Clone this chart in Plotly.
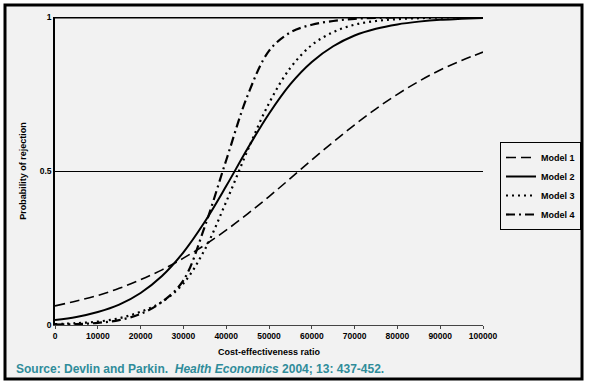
import plotly.graph_objects as go

# Data
cer = [0, 5000, 10000, 15000, 20000, 25000, 30000, 35000, 40000, 45000, 50000,
       55000, 60000, 65000, 70000, 75000, 80000, 85000, 90000, 95000, 100000]
model1 = [0.062, 0.078, 0.096, 0.119, 0.147, 0.179, 0.217, 0.260, 0.308, 0.361, 0.417,
          0.476, 0.536, 0.594, 0.650, 0.702, 0.749, 0.791, 0.828, 0.859, 0.886]
model2 = [0.016, 0.026, 0.042, 0.066, 0.104, 0.159, 0.236, 0.335, 0.451, 0.573, 0.686,
          0.782, 0.854, 0.905, 0.940, 0.962, 0.976, 0.985, 0.991, 0.994, 0.997]
model3 = [0.003, 0.006, 0.011, 0.022, 0.043, 0.075, 0.135, 0.245, 0.400, 0.567, 0.720,
          0.835, 0.909, 0.951, 0.975, 0.987, 0.993, 0.996, 0.998, 0.999, 0.999]
model4 = [0.001, 0.003, 0.007, 0.016, 0.036, 0.075, 0.145, 0.320, 0.535, 0.745, 0.890,
          0.950, 0.975, 0.987, 0.994, 0.997, 0.999, 1.0, 1.0, 1.0, 1.0]
x_ticks = [0, 10000, 20000, 30000, 40000, 50000, 60000, 70000, 80000, 90000, 100000]
y_ticks = [0, 0.5, 1]
y_tick_text = ["0", "0.5", "1"]

W, H = 589, 385
L, R, T, B = 55, 106, 17, 60
pw, ph = W - L - R, H - T - B

def px_x(p):
    return (p - L) / pw

def px_y(p):
    return (H - B - p) / ph

FONT = "Liberation Sans, Arial, sans-serif"

fig = go.Figure()
fig.add_trace(go.Scatter(x=cer, y=model1, name="Model 1", mode="lines", line_shape="spline",
                         line=dict(color="black", width=1.6, dash="10px,5px")))
fig.add_trace(go.Scatter(x=cer, y=model2, name="Model 2", mode="lines", line_shape="spline",
                         line=dict(color="black", width=2)))
fig.add_trace(go.Scatter(x=cer, y=model3, name="Model 3", mode="lines", line_shape="spline",
                         line=dict(color="black", width=2.2, dash="2px,4px")))
fig.add_trace(go.Scatter(x=cer, y=model4, name="Model 4", mode="lines", line_shape="spline",
                         line=dict(color="black", width=2.2, dash="9px,4px,2px,4px")))

shapes = [
    # gray panel with thick black frame
    dict(type="rect", xref="paper", yref="paper", x0=px_x(5), x1=px_x(582),
         y0=px_y(379), y1=px_y(5), fillcolor="#f2f2f2",
         line=dict(color="black", width=3), layer="below"),
    # thick top line at probability 1
    dict(type="line", xref="x", yref="y", x0=0, x1=100000, y0=1, y1=1,
         line=dict(color="black", width=3)),
]

fig.update_layout(
    width=W, height=H,
    margin=dict(l=L, r=R, t=T, b=B, autoexpand=False),
    paper_bgcolor="white", plot_bgcolor="rgba(0,0,0,0)",
    font=dict(family=FONT, size=9, color="black"),
    shapes=shapes,
    showlegend=True,
    legend=dict(x=px_x(500), y=px_y(142), xanchor="left", yanchor="top",
                bgcolor="rgba(0,0,0,0)", bordercolor="black", borderwidth=1,
                font=dict(size=9, weight="bold", family=FONT),
                itemwidth=30, tracegroupgap=0),
    xaxis=dict(range=[0, 100000], tickvals=x_ticks, ticktext=[str(v) for v in x_ticks],
               showgrid=False, zeroline=False, showline=True, linecolor="#444",
               linewidth=1, ticks="outside", ticklen=3, tickcolor="#444",
               tickfont=dict(size=8.5, weight="bold"),
               title=dict(text="Cost-effectiveness ratio", font=dict(size=9, weight="bold"),
                          standoff=8)),
    yaxis=dict(range=[0, 1], tickvals=y_ticks, ticktext=y_tick_text,
               showgrid=True, gridcolor="black", gridwidth=1, zeroline=False,
               showline=True, linecolor="black", linewidth=1.5, ticks="",
               tickfont=dict(size=8.5, weight="bold"),
               title=dict(text="Probability of rejection", font=dict(size=9, weight="bold"),
                          standoff=12)),
    annotations=[
        dict(xref="paper", yref="paper", x=px_x(14), y=px_y(369), xanchor="left",
             yanchor="middle", showarrow=False,
             text="Source: Devlin and Parkin.  <i>Health Economics</i> 2004; 13: 437-452.",
             font=dict(size=12, color="#2f8c9a", family=FONT, weight="bold")),
    ],
)

fig.write_html("out.html", config={"displayModeBar": False},
               post_script="document.body.style.margin='0px';")
